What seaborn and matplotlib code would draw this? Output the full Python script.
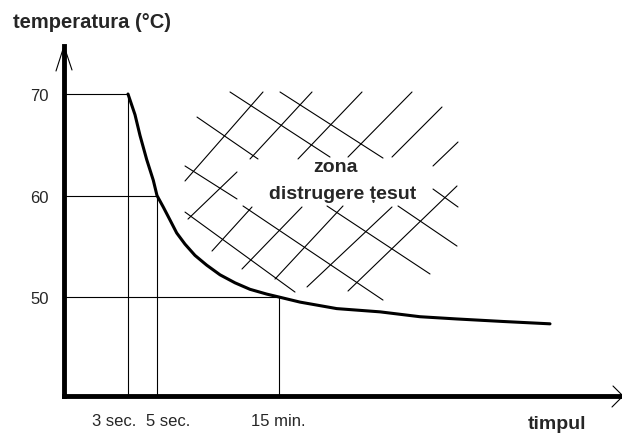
import numpy as np
import pandas as pd
import matplotlib
matplotlib.use("Agg")
import matplotlib.pyplot as plt
from matplotlib.transforms import ScaledTranslation
import seaborn as sns

# schematic time axis (arbitrary units) and temperature in degC
time_marks = [64, 93, 215]
time_labels = ["3 sec.", "5 sec.", "15 min."]
temp_marks = [70, 60, 50]
temp_labels = ["70", "60", "50"]

curve_x = [64, 71, 76, 82.7, 89.3, 93, 99.3, 106, 112.7, 121, 131, 142.7, 156, 171, 186, 202.7,
           215, 236, 272.7, 316, 356, 392.7, 439.3, 486]
curve_t = [70.0, 67.96, 65.92, 63.54, 61.5, 60.0, 58.86, 57.59, 56.31, 55.21, 54.1, 53.14, 52.19, 51.4,
           50.76, 50.29, 50.0, 49.5, 48.86, 48.54, 48.06, 47.84, 47.59, 47.36]

# hatch segments of the damage zone: x0, t0, x1, t1
hatch_x0 = [166, 216, 133, 121, 121, 179, 263, 334, 369,
            199, 248, 298, 348, 378, 394, 393, 328, 279, 238, 188, 173]
hatch_t0 = [70.2, 70.2, 67.73, 62.91, 58.37, 58.97, 58.97, 58.97, 60.64,
            70.2, 70.2, 70.2, 70.2, 68.72, 65.27, 60.94, 58.87, 58.97, 58.87, 58.87, 62.32]
hatch_x1 = [266, 319, 194, 173, 231, 319, 366, 393, 394,
            121, 186, 234, 284, 328, 369, 284, 243, 211, 178, 148, 124]
hatch_t1 = [63.79, 63.69, 63.6, 59.66, 50.49, 49.7, 52.27, 55.02, 58.87,
            61.43, 63.6, 63.6, 63.79, 63.79, 62.91, 50.59, 50.99, 51.77, 52.76, 54.53, 57.68]

zone_label = ["zona", "distrugere țesut"]

sns.set_style("white")
plt.rcParams['font.family'] = ['Liberation Sans', 'DejaVu Sans']

fig = plt.figure(figsize=(6.22, 4.35), dpi=100)
ax = fig.add_axes([64 / 622, 38 / 435, 558 / 622, 350 / 435])
ax.set_xlim(0, 558)
ax.set_ylim(40.25, 74.73)

# guide lines from the axes to the curve
ax.hlines(temp_marks, 0, time_marks, colors="black", lw=0.8)
ax.vlines(time_marks, 40.25, temp_marks, colors="black", lw=0.8)

df = pd.DataFrame({"t": curve_x, "temp": curve_t})
sns.lineplot(data=df, x="t", y="temp", ax=ax, color="black", lw=2.2, sort=False)

for x0, t0, x1, t1 in zip(hatch_x0, hatch_t0, hatch_x1, hatch_t1):
    ax.plot([x0, x1], [t0, t1], color="black", lw=0.8)

ax.text(272, 62.9, zone_label[0], ha="center", va="center", fontsize=14, fontweight="bold")
ax.text(279, 60.15, zone_label[1], ha="center", va="center", fontsize=14, fontweight="bold")

# axes
for s in ["top", "right"]:
    ax.spines[s].set_visible(False)
for s in ["left", "bottom"]:
    ax.spines[s].set_linewidth(3.5)
    ax.spines[s].set_color("black")

ax.set_xticks(time_marks)
ax.set_xticklabels(time_labels, fontsize=12)
ax.set_yticks(temp_marks)
ax.set_yticklabels(temp_labels, fontsize=12)
ax.tick_params(axis="both", length=0)
ax.tick_params(axis="x", pad=12)
ax.tick_params(axis="y", pad=11)
ax.set_xlabel("")
ax.set_ylabel("")

label_shift = [-14, 11, -1]
for lab, dx in zip(ax.get_xticklabels(), label_shift):
    lab.set_transform(lab.get_transform() + ScaledTranslation(dx / 100, 0, fig.dpi_scale_trans))

# open arrow heads on the axes
top = fig.dpi_scale_trans + ScaledTranslation(0, 1, ax.transAxes)
ax.plot([-0.08, 0, 0.08], [-0.25, 0, -0.24], color="black", lw=0.8, transform=top, clip_on=False)
right = fig.dpi_scale_trans + ScaledTranslation(1, 0, ax.transAxes)
ax.plot([-0.09, 0.01, -0.1], [0.1, 0, -0.11], color="black", lw=0.8, transform=right, clip_on=False)

fig.text(13 / 622, 1 - 23 / 435, "temperatura (°C)", ha="left", va="center", fontsize=14.5, fontweight="bold")
fig.text(557 / 622, 1 - 425 / 435, "timpul", ha="center", va="center", fontsize=14, fontweight="bold")

fig.savefig("out.png", dpi=100)
